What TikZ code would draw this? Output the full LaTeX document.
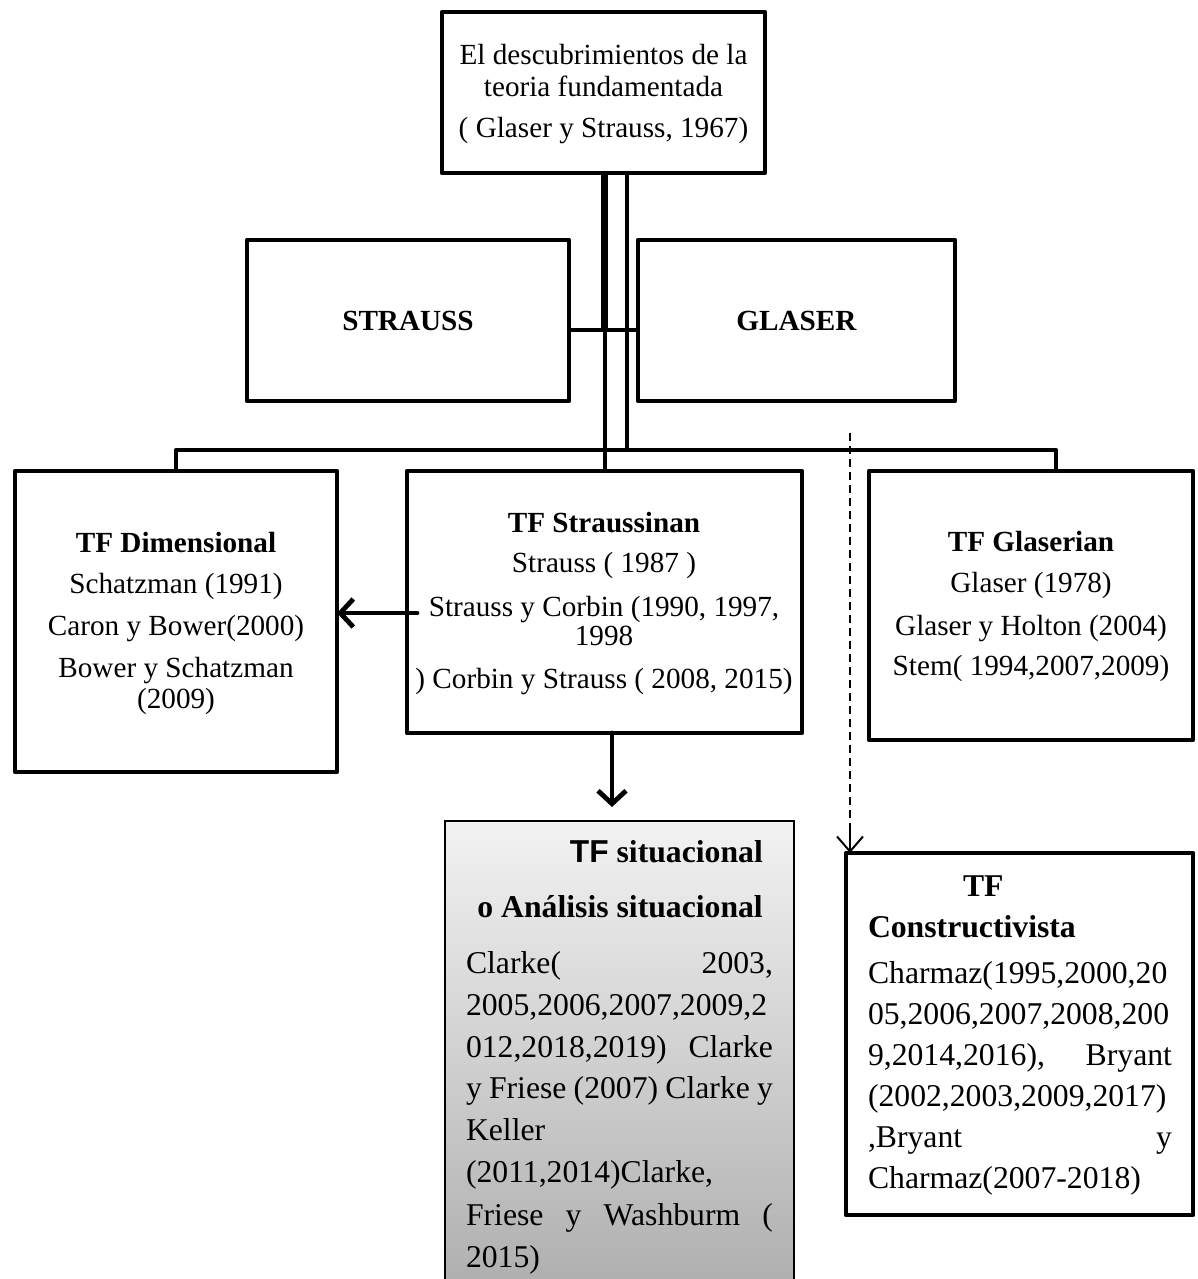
\documentclass[tikz,border=0pt]{standalone}
\usepackage{fontspec}
\setmainfont{Liberation Serif}
\newfontfamily\arialf{Liberation Sans}
\usetikzlibrary{arrows.meta}
\begin{document}
\begin{tikzpicture}[x=1pt,y=-1pt,
  frame/.style={draw, line width=4.8pt, line join=round, inner sep=0pt, outer sep=0pt},
  conn/.style={line width=4.8pt},
  arr/.style={line width=4.8pt, line cap=round, -{Straight Barb[length=13pt,width=28pt]}},
  dline/.style={line width=1.8pt, dash pattern=on 8pt off 5pt},
  dtip/.style={line width=2pt, solid, -{Straight Barb[length=15pt,width=26pt]}},
  lbl/.style={anchor=base, inner sep=0pt, outer sep=0pt},
  lblw/.style={anchor=base west, inner sep=0pt, outer sep=0pt},
  fa/.style={font=\fontsize{29.2}{35}\selectfont},
  fab/.style={font=\fontsize{29.2}{35}\selectfont\bfseries},
  fb/.style={font=\fontsize{31.7}{40}\selectfont},
  fbb/.style={font=\fontsize{31.7}{40}\selectfont\bfseries},
]
\useasboundingbox (0,0) rectangle (1198,1279);

% boxes
\node[frame, minimum width=323pt, minimum height=161pt] (top) at (603.5,92.5) {};
\node[frame, minimum width=322pt, minimum height=161pt, fab] (strauss) at (408,320.5) {STRAUSS};
\node[frame, minimum width=317pt, minimum height=161pt, fab] (glaser) at (796.5,320.5) {GLASER};
\node[frame, line width=4.3pt, minimum width=322pt, minimum height=301pt] (dim) at (176,621.5) {};
\node[frame, line width=4.3pt, minimum width=395pt, minimum height=262pt] (mid) at (604.5,602) {};
\node[frame, line width=4.3pt, minimum width=324pt, minimum height=269pt] (gla) at (1031,605.5) {};
\node[inner sep=0pt, outer sep=0pt, top color=black!5, bottom color=black!31, minimum width=349pt, minimum height=458pt] (sit) at (619.5,1050) {};
\draw[line width=1.5pt] (sit.south west) -- (sit.north west) -- (sit.north east) -- (sit.south east);
\node[frame, minimum width=347pt, minimum height=362pt] (cons) at (1019.5,1034) {};

% top box text
\node[lbl,fa] (t1) at (603.5,65) {El descubrimientos de la};
\node[lbl,fa] (t2) at (603.5,97) {teoria fundamentada};
\node[lbl,fa] (t3) at (603.5,137) {( Glaser y Strauss, 1967)};

% TF Dimensional
\node[lbl,fab] (d0) at (176,552) {TF Dimensional};
\node[lbl,fa] (d1) at (176,593) {Schatzman (1991)};
\node[lbl,fa] (d2) at (176,635) {Caron y Bower(2000)};
\node[lbl,fa] (d3) at (176,677) {Bower y Schatzman};
\node[lbl,fa] (d4) at (176,708) {(2009)};

% TF Straussinan
\node[lbl,fab] (m0) at (604,532) {TF Straussinan};
\node[lbl,fa] (m1) at (604,572) {Strauss ( 1987 )};
\node[lbl,fa] (m2) at (604,616) {Strauss y Corbin (1990, 1997,};
\node[lbl,fa] (m3) at (604,645) {1998};
\node[lbl,fa] (m4) at (604,688) {) Corbin y Strauss ( 2008, 2015)};

% TF Glaserian
\node[lbl,fab] (g0) at (1031,551) {TF Glaserian};
\node[lbl,fa] (g1) at (1031,592) {Glaser (1978)};
\node[lbl,fa] (g2) at (1031,635) {Glaser y Holton (2004)};
\node[lbl,fa] (g3) at (1031,675) {Stem( 1994,2007,2009)};

% TF situacional
\node[anchor=base east, inner sep=0pt, fbb] (s0) at (763,862) {{\arialf TF} situacional};
\node[anchor=base east, inner sep=0pt, fbb] (s1) at (763,917) {o Análisis situacional};
\node[lblw,fb] (s2) at (466,973) {\makebox[307pt][s]{Clarke( 2003,}};
\node[lblw,fb] (s3) at (466,1015) {2005,2006,2007,2009,2};
\node[lblw,fb] (s4) at (466,1057) {\makebox[307pt][s]{012,2018,2019) Clarke}};
\node[lblw,fb] (s5) at (466,1098) {\makebox[307pt][s]{y Friese (2007) Clarke y}};
\node[lblw,fb] (s6) at (466,1140) {Keller};
\node[lblw,fb] (s7) at (466,1182) {(2011,2014)Clarke,};
\node[lblw,fb] (s8) at (466,1225) {\makebox[307pt][s]{Friese y Washburm (}};
\node[lblw,fb] (s9) at (466,1267) {2015)};

% TF Constructivista
\node[lblw,fbb] (c0) at (963,896) {TF};
\node[lblw,fbb] (c1) at (868,937) {Constructivista};
\node[lblw,fb] (c2) at (868,983) {Charmaz(1995,2000,20};
\node[lblw,fb] (c3) at (868,1024) {05,2006,2007,2008,200};
\node[lblw,fb] (c4) at (868,1065) {\makebox[304pt][s]{9,2014,2016), Bryant}};
\node[lblw,fb] (c5) at (868,1106) {(2002,2003,2009,2017)};
\node[lblw,fb] (c6) at (868,1147) {\makebox[304pt][s]{,Bryant y}};
\node[lblw,fb] (c7) at (868,1188) {Charmaz(2007-2018)};

% connectors
\coordinate (j1) at (604.5,330);
\coordinate (bar) at (0,450);
\coordinate (rj) at (627,0);
\coordinate (rb) at (1056,450);
\draw[line width=7pt] (top.south -| j1) -- (j1);
\draw[line width=4pt] (j1) -- (mid.north -| j1);
\draw[line width=4pt] (top.south -| rj) -- (bar -| rj);
\draw[conn] (strauss.east |- j1) -- (glaser.west |- j1);
\draw[conn, line join=round] (dim.north) -- (dim.north |- bar) -- (rb) -- (rb |- gla.north);

% arrows
\coordinate (as) at (417,613);
\draw[arr] (as) -- (dim.east |- as);
\coordinate (dx) at (612,733);
\draw[arr, shorten >=14pt] (dx) -- (dx |- sit.north);
\coordinate (ds) at (850,433);
\coordinate (dt) at (850,830);
\draw[dline] (ds) -- (ds |- cons.north);
\draw[dtip] (dt) -- (dt |- cons.north);
\end{tikzpicture}
\end{document}
